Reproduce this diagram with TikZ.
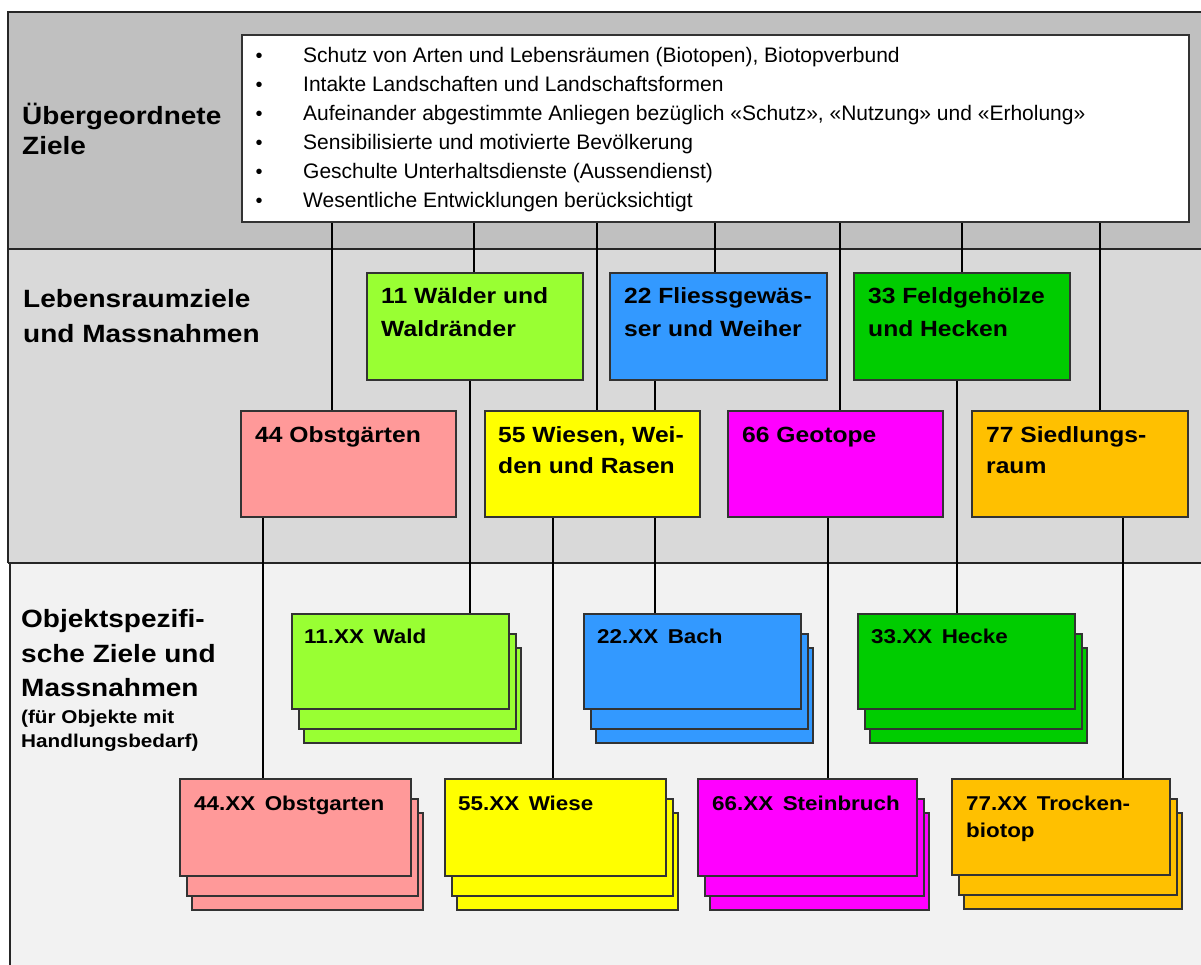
\documentclass[tikz,border=0pt]{standalone}
\usepackage{fontspec}
\usetikzlibrary{backgrounds}
\setmainfont{Liberation Sans}
\newfontfamily\bxf{Liberation Sans}[FakeStretch=1.12]
\definecolor{bandA}{HTML}{C0C0C0}
\definecolor{bandB}{HTML}{D9D9D9}
\definecolor{bandC}{HTML}{F2F2F2}
\definecolor{cA}{HTML}{99FF33}
\definecolor{cB}{HTML}{3399FF}
\definecolor{cC}{HTML}{00CC00}
\definecolor{cD}{HTML}{FF9999}
\definecolor{cE}{HTML}{FFFF00}
\definecolor{cF}{HTML}{FF00FF}
\definecolor{cG}{HTML}{FFC000}
\pgfdeclarelayer{bands}
\pgfsetlayers{bands,background,main}
\newcommand{\stk}[6]{%
  \node[box,fill=#6,minimum width=#4pt,minimum height=#5pt] (#1back) at (#2+12,#3+34) {};
  \node[box,fill=#6,minimum width=#4pt,minimum height=#5pt] (#1mid) at (#2+7,#3+20) {};
  \node[box,fill=#6,minimum width=#4pt,minimum height=#5pt] (#1) at (#2,#3) {};}
\begin{document}
\begin{tikzpicture}[x=1pt,y=-1pt,
  edge/.style={draw=black!85,line width=1.1pt},
  conn/.style={draw=black,line width=2pt},
  box/.style={draw=black!80,line width=1.1pt,anchor=north west,inner sep=0pt,outer sep=0pt},
  ttl/.style={anchor=base west,inner sep=0pt,font=\bxf\bfseries\fontsize{25}{30}\selectfont},
  sml/.style={anchor=base west,inner sep=0pt,font=\bxf\bfseries\fontsize{18.5}{22}\selectfont},
  bt/.style={anchor=base west,inner sep=0pt,font=\bxf\bfseries\fontsize{22}{26}\selectfont},
  xt/.style={anchor=base west,inner sep=0pt,font=\bxf\bfseries\fontsize{20}{24}\selectfont},
  li/.style={anchor=base west,inner sep=0pt,font=\fontsize{21}{24}\selectfont},
  dot/.style={anchor=base,inner sep=0pt,font=\fontsize{20}{24}\selectfont}]
\useasboundingbox (0,0) rectangle (1201,965);
% bands
\begin{pgfonlayer}{bands}
\fill[bandA] (8,12) rectangle (1201,249);
\fill[bandB] (8,249) rectangle (1201,563);
\fill[bandC] (10,563) rectangle (1201,965);
\draw[edge] (1201,12) -- (8,12) -- (8,563);
\draw[edge] (8,249) -- (1201,249);
\draw[edge] (8,563) -- (1201,563);
\draw[edge] (10,563) -- (10,965);
\end{pgfonlayer}
% white goal box
\node[box,fill=white,minimum width=947pt,minimum height=187pt] (wb) at (242,35) {};
% level 2 boxes
\node[box,fill=cA,minimum width=216pt,minimum height=107pt] (b11) at (367,273) {};
\node[box,fill=cB,minimum width=217pt,minimum height=107pt] (b22) at (610,273) {};
\node[box,fill=cC,minimum width=216pt,minimum height=107pt] (b33) at (854,273) {};
\node[box,fill=cD,minimum width=215pt,minimum height=106pt] (b44) at (241,411) {};
\node[box,fill=cE,minimum width=215pt,minimum height=106pt] (b55) at (485,411) {};
\node[box,fill=cF,minimum width=215pt,minimum height=106pt] (b66) at (728,411) {};
\node[box,fill=cG,minimum width=216pt,minimum height=106pt] (b77) at (972,411) {};
% level 3 stacks
\stk{x11}{292}{614}{217}{95}{cA}
\stk{x22}{584}{614}{217}{95}{cB}
\stk{x33}{858}{614}{217}{95}{cC}
\stk{x44}{180}{779}{231}{97}{cD}
\stk{x55}{445}{779}{221}{97}{cE}
\stk{x66}{698}{779}{219}{97}{cF}
\stk{x77}{952}{779}{218}{96}{cG}
% connector x positions
\coordinate (k44) at (332,0);
\coordinate (k11) at (474,0);
\coordinate (k55) at (597,0);
\coordinate (k22) at (715,0);
\coordinate (k66) at (840,0);
\coordinate (k33) at (962,0);
\coordinate (k77) at (1100,0);
\coordinate (m44) at (263,0);
\coordinate (m11) at (470,0);
\coordinate (m55) at (553,0);
\coordinate (m22) at (655,0);
\coordinate (m66) at (828,0);
\coordinate (m33) at (957,0);
\coordinate (m77) at (1123,0);
\begin{pgfonlayer}{background}
\foreach \n in {44,11,55,22,66,33,77}{
  \draw[conn] (wb.south -| k\n) -- (b\n.north -| k\n);
  \draw[conn] (b\n.south -| m\n) -- (x\n.north -| m\n);
}
\end{pgfonlayer}
% left labels
\node[ttl] (l1a) at (22,125) {Übergeordnete};
\node[ttl] (l1b) at (22,155) {Ziele};
\node[ttl] (l2a) at (23,308) {Lebensraumziele};
\node[ttl] (l2b) at (23,342) {und Massnahmen};
\node[ttl] (l3a) at (21,627) {Objektspezifi-};
\node[ttl] (l3b) at (21,662) {sche Ziele und};
\node[ttl] (l3c) at (21,696) {Massnahmen};
\node[sml] (l3d) at (21,723) {(für Objekte mit};
\node[sml] (l3e) at (21,747) {Handlungsbedarf)};
% goal list
\foreach \i/\t in {0/{Schutz von Arten und Lebensräumen (Biotopen), Biotopverbund},
  1/{Intakte Landschaften und Landschaftsformen},
  2/{Aufeinander abgestimmte Anliegen bezüglich «Schutz», «Nutzung» und «Erholung»},
  3/{Sensibilisierte und motivierte Bevölkerung},
  4/{Geschulte Unterhaltsdienste (Aussendienst)},
  5/{Wesentliche Entwicklungen berücksichtigt}}{
  \node[dot] (bu\i) at (259,63+29*\i) {•};
  \node[li] (gl\i) at (303,63+29*\i) {\t};
}
% level 2 texts
\node[bt] (t11a) at (381,304) {11 Wälder und};
\node[bt] (t11b) at (381,336) {Waldränder};
\node[bt] (t22a) at (624,304) {22 Fliessgewäs-};
\node[bt] (t22b) at (624,336) {ser und Weiher};
\node[bt] (t33a) at (868,304) {33 Feldgehölze};
\node[bt] (t33b) at (868,336) {und Hecken};
\node[bt] (t44a) at (255,442) {44 Obstgärten};
\node[bt] (t55a) at (498,442) {55 Wiesen, Wei-};
\node[bt] (t55b) at (498,473) {den und Rasen};
\node[bt] (t66a) at (742,442) {66 Geotope};
\node[bt] (t77a) at (986,442) {77 Siedlungs-};
\node[bt] (t77b) at (986,473) {raum};
% level 3 texts
\node[xt] (u11) at (304,643) {11.XX\,\ Wald};
\node[xt] (u22) at (597,643) {22.XX\,\ Bach};
\node[xt] (u33) at (871,643) {33.XX\,\ Hecke};
\node[xt] (u44) at (194,810) {44.XX\,\ Obstgarten};
\node[xt] (u55) at (458,810) {55.XX\,\ Wiese};
\node[xt] (u66) at (712,810) {66.XX\,\ Steinbruch};
\node[xt] (u77a) at (966,810) {77.XX\,\ Trocken-};
\node[xt] (u77b) at (966,837) {biotop};
\end{tikzpicture}
\end{document}
